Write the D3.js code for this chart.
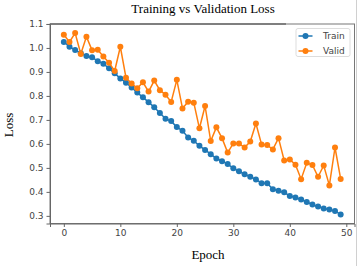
<!DOCTYPE html>
<html>
<head>
<meta charset="utf-8">
<script src="https://cdn.jsdelivr.net/npm/d3@7"></script>
<style>
  html, body { margin: 0; padding: 0; background: #fff; }
  svg { display: block; }
</style>
</head>
<body>
<svg id="chart" width="358" height="266"></svg>
<script>
const epochs = d3.range(0, 50);

const trainLoss = [1.025, 1.005, 0.991, 0.978, 0.966, 0.961, 0.945, 0.934, 0.915, 0.894,
  0.873, 0.855, 0.835, 0.814, 0.794, 0.774, 0.753, 0.729, 0.705, 0.695,
  0.670, 0.655, 0.627, 0.613, 0.592, 0.575, 0.557, 0.539, 0.528, 0.516,
  0.498, 0.486, 0.473, 0.463, 0.452, 0.436, 0.436, 0.411, 0.405, 0.398,
  0.383, 0.377, 0.368, 0.358, 0.347, 0.339, 0.331, 0.327, 0.320, 0.306];

const validLoss = [1.055, 1.025, 1.062, 0.975, 1.047, 0.990, 0.992, 0.964, 0.938, 0.904,
  1.005, 0.876, 0.852, 0.832, 0.857, 0.818, 0.864, 0.824, 0.805, 0.775,
  0.867, 0.748, 0.776, 0.772, 0.665, 0.758, 0.612, 0.669, 0.624, 0.564,
  0.602, 0.602, 0.585, 0.610, 0.685, 0.598, 0.595, 0.577, 0.624, 0.531,
  0.535, 0.513, 0.453, 0.521, 0.512, 0.463, 0.510, 0.427, 0.585, 0.454];

const xTicks = [0, 10, 20, 30, 40, 50];
const yTicks = [0.3, 0.4, 0.5, 0.6, 0.7, 0.8, 0.9, 1.0, 1.1];

const series = [
  { name: "Train", values: trainLoss, color: "#1f77b4" },
  { name: "Valid", values: validLoss, color: "#ff7f0e" }
];

const svg = d3.select("#chart");
const margin = { left: 50, right: 354.5, top: 24, bottom: 223.5 };

// matplotlib-style 5% padding around the data
const xPad = (d3.max(epochs) - d3.min(epochs)) * 0.05;
const x = d3.scaleLinear()
  .domain([d3.min(epochs) - xPad, d3.max(epochs) + xPad])
  .range([margin.left, margin.right]);

const allVals = trainLoss.concat(validLoss);
const yMin = d3.min(allVals), yMax = d3.max(allVals);
const yPad = (yMax - yMin) * 0.05;
const y = d3.scaleLinear()
  .domain([yMin - yPad, yMax + yPad])
  .range([margin.bottom, margin.top]);

// right edge border of the screenshot
svg.append("line")
  .attr("x1", 356.5).attr("x2", 356.5).attr("y1", 0).attr("y2", 266)
  .attr("stroke", "#d0d0d0").attr("stroke-width", 1);

// frame
svg.append("rect")
  .attr("x", margin.left).attr("y", margin.top)
  .attr("width", margin.right - margin.left).attr("height", margin.bottom - margin.top)
  .attr("fill", "none").attr("stroke", "#777").attr("stroke-width", 1);
svg.append("line")
  .attr("x1", margin.left).attr("x2", 286).attr("y1", margin.top).attr("y2", margin.top)
  .attr("stroke", "#444").attr("stroke-width", 1);

// axes
const xAxis = svg.append("g")
  .attr("transform", `translate(0, ${margin.bottom})`)
  .call(d3.axisBottom(x).tickValues(xTicks).tickSize(3.5).tickPadding(3).tickFormat(d3.format("d")));
const yAxis = svg.append("g")
  .attr("transform", `translate(${margin.left}, 0)`)
  .call(d3.axisLeft(y).tickValues(yTicks).tickSize(3.5).tickPadding(3).tickFormat(d3.format(".1f")));

[xAxis, yAxis].forEach(g => {
  g.select(".domain").attr("stroke", "#666");
  g.selectAll(".tick line").attr("stroke", "#666");
  g.selectAll("text")
    .attr("fill", "#444")
    .style("font-family", "DejaVu Sans, sans-serif")
    .style("font-size", "9px");
});

// lines and markers
const line = d3.line()
  .x((d, i) => x(epochs[i]))
  .y(d => y(d));

series.forEach(s => {
  const g = svg.append("g");
  g.append("path")
    .datum(s.values)
    .attr("fill", "none")
    .attr("stroke", s.color)
    .attr("stroke-width", 1.5)
    .attr("d", line);
  g.selectAll("circle")
    .data(s.values)
    .enter().append("circle")
    .attr("cx", (d, i) => x(epochs[i]))
    .attr("cy", d => y(d))
    .attr("r", 3)
    .attr("fill", s.color);
});

// legend
const legend = svg.append("g").attr("transform", "translate(296, 28.5)");
legend.append("rect")
  .attr("width", 54).attr("height", 28).attr("rx", 2)
  .attr("fill", "#fff").attr("fill-opacity", 0.8)
  .attr("stroke", "#ddd");
series.forEach((s, i) => {
  const ly = 7.5 + i * 15;
  legend.append("line")
    .attr("x1", 2.5).attr("x2", 16.5).attr("y1", ly).attr("y2", ly)
    .attr("stroke", s.color).attr("stroke-width", 1.5);
  legend.append("circle")
    .attr("cx", 9.5).attr("cy", ly).attr("r", 3).attr("fill", s.color);
  legend.append("text")
    .attr("x", 27).attr("y", ly + 3.3)
    .attr("fill", "#444")
    .style("font-family", "DejaVu Sans, sans-serif")
    .style("font-size", "9px")
    .text(s.name);
});

// titles
const serif = "Liberation Serif, Times New Roman, serif";
svg.append("text")
  .attr("x", 203).attr("y", 13)
  .attr("text-anchor", "middle")
  .style("font-family", serif).style("font-size", "13px")
  .attr("fill", "#000")
  .text("Training vs Validation Loss");
svg.append("text")
  .attr("x", 208).attr("y", 259)
  .attr("text-anchor", "middle")
  .style("font-family", serif).style("font-size", "13px")
  .attr("fill", "#000")
  .text("Epoch");
svg.append("text")
  .attr("transform", "translate(13, 125) rotate(-90)")
  .attr("text-anchor", "middle")
  .style("font-family", serif).style("font-size", "13px")
  .attr("fill", "#000")
  .text("Loss");
</script>
</body>
</html>
